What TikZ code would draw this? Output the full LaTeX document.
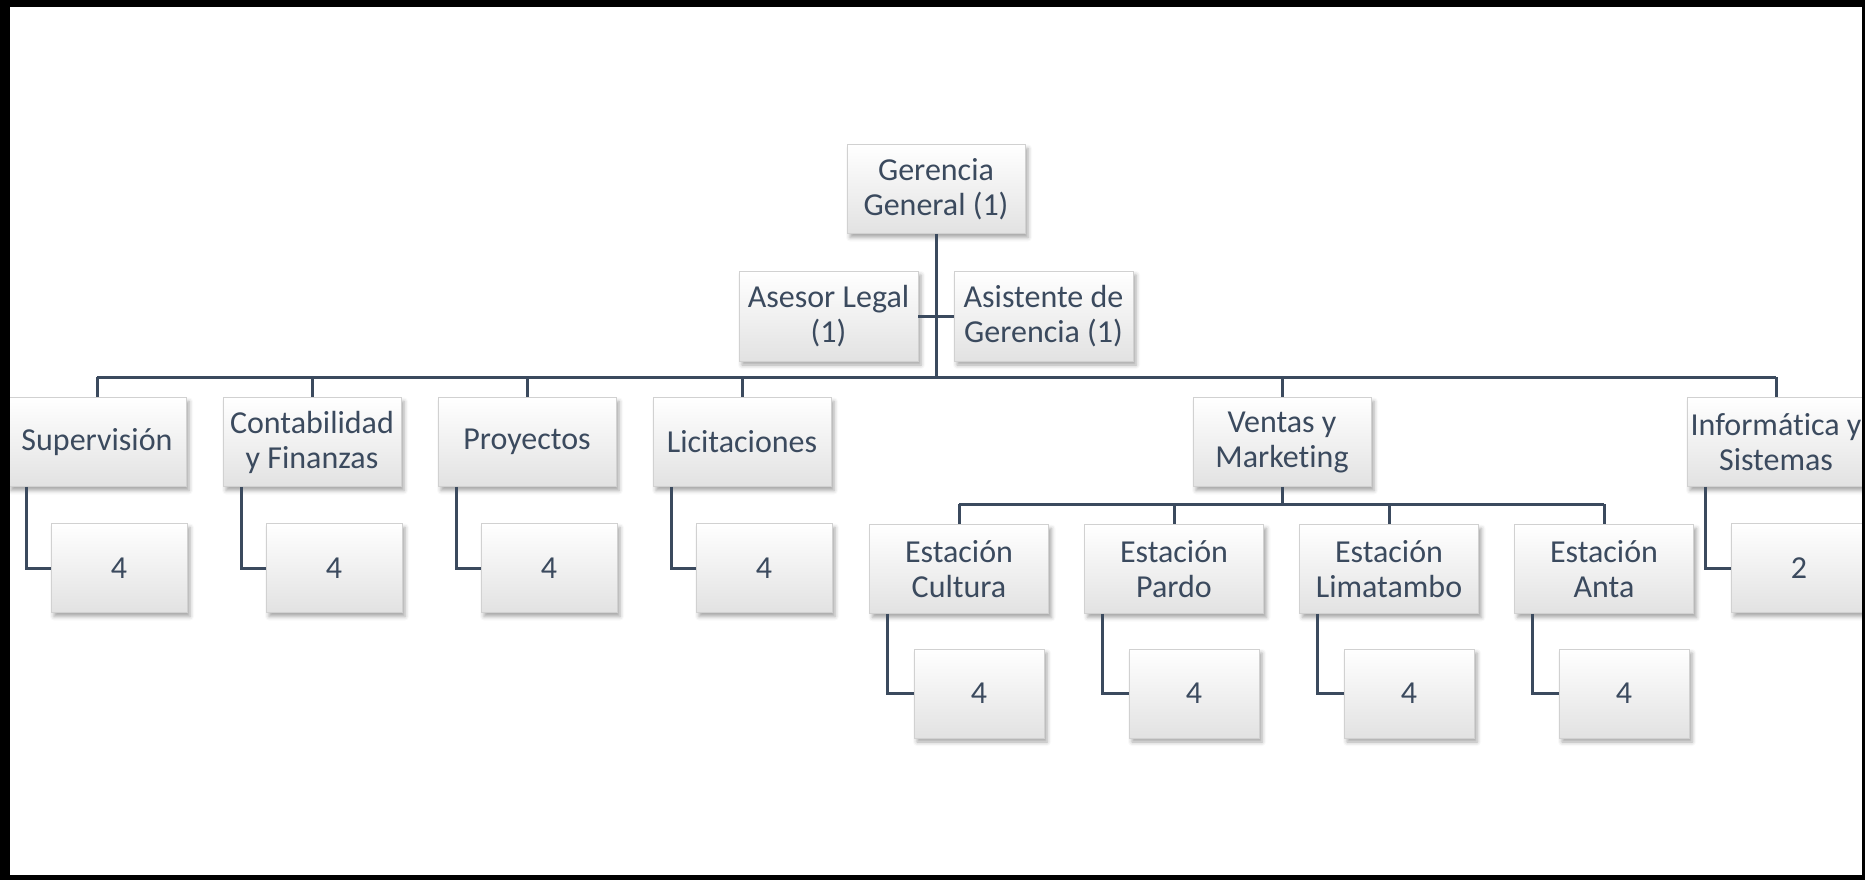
\documentclass[tikz,border=0pt]{standalone}
\usepackage{fontspec}
\setmainfont{Carlito}[Ligatures={NoCommon}]
\usetikzlibrary{shadows.blur}
\definecolor{linec}{HTML}{3B4A5E}
\definecolor{textc}{HTML}{3B4A5E}
\definecolor{boxbot}{HTML}{E2E2E2}
\begin{document}
\begin{tikzpicture}[x=1pt,y=-1pt,
  box/.style={draw=black!18, line width=0.6pt, top color=white, bottom color=boxbot,
    blur shadow={shadow xshift=3pt, shadow yshift=-4pt, shadow blur radius=4pt, shadow opacity=35},
    text=textc, align=center, inner sep=0pt, minimum width=178pt, minimum height=89pt,
    font=\fontsize{32}{35}\selectfont},
  sbox/.style={box, minimum width=136pt},
  tbox/.style={box, minimum width=130pt},
  conn/.style={draw=linec, line width=3pt}]
\useasboundingbox (0,0) rectangle (1865,880);
\clip (0,0) rectangle (1865,880);
% top
\node[box] (gg) at (936,189) {Gerencia\\General (1)};
\node[box, minimum width=179pt, minimum height=90pt] (al) at (828.5,316) {Asesor Legal\\(1)};
\node[box, minimum width=179pt, minimum height=90pt] (as) at (1043.5,316) {Asistente de\\Gerencia (1)};
% level 1
\node[box] (sup) at (97,442) {Supervisión};
\node[box] (con) at (312,442) {Contabilidad\\y Finanzas};
\node[box] (pro) at (527,442) {Proyectos};
\node[box] (lic) at (742,442) {Licitaciones};
\node[box] (ven) at (1282,442) {Ventas y\\Marketing};
\node[box] (inf) at (1776,442) {Informática y\\Sistemas};
% level 1 children
\node[sbox] (supc) at (119,568) {4};
\node[sbox] (conc) at (334,568) {4};
\node[sbox] (proc) at (549,568) {4};
\node[sbox] (licc) at (764,568) {4};
\node[sbox] (infc) at (1799,568) {2};
% stations
\node[box, minimum width=179pt] (cul) at (959,569) {Estación\\Cultura};
\node[box, minimum width=179pt] (par) at (1174,569) {Estación\\Pardo};
\node[box, minimum width=179pt] (lim) at (1389,569) {Estación\\Limatambo};
\node[box, minimum width=179pt] (ant) at (1604,569) {Estación\\Anta};
\node[tbox] (culc) at (979,693.5) {4};
\node[tbox] (parc) at (1194,693.5) {4};
\node[tbox] (limc) at (1409,693.5) {4};
\node[tbox] (antc) at (1624,693.5) {4};
% connectors
\coordinate (bus) at (936,377);
\coordinate (vbus) at (1282,504);
\draw[conn] (gg.south) -- (bus);
\draw[conn] (al.east) -- (as.west);
\draw[conn] (bus -| sup) -- (bus -| inf);
\foreach \n in {sup,con,pro,lic,ven,inf} {
  \draw[conn] (bus -| \n) -- (\n.north);
}
\foreach \n in {sup,con,pro,lic,inf} {
  \draw[conn] ([xshift=-71pt]\n.south) |- (\n c.west);
}
\draw[conn] (vbus -| cul) -- (vbus -| ant);
\draw[conn] (ven.south) -- (vbus);
\foreach \n in {cul,par,lim,ant} {
  \draw[conn] (vbus -| \n) -- (\n.north);
  \draw[conn] ([xshift=-72pt]\n.south) |- (\n c.west);
}
% frame
\fill[black] (0,0) rectangle (10,880);
\fill[black] (0,0) rectangle (1865,7);
\fill[black] (1862,0) rectangle (1865,880);
\fill[black] (0,875) rectangle (1865,880);
\end{tikzpicture}
\end{document}
